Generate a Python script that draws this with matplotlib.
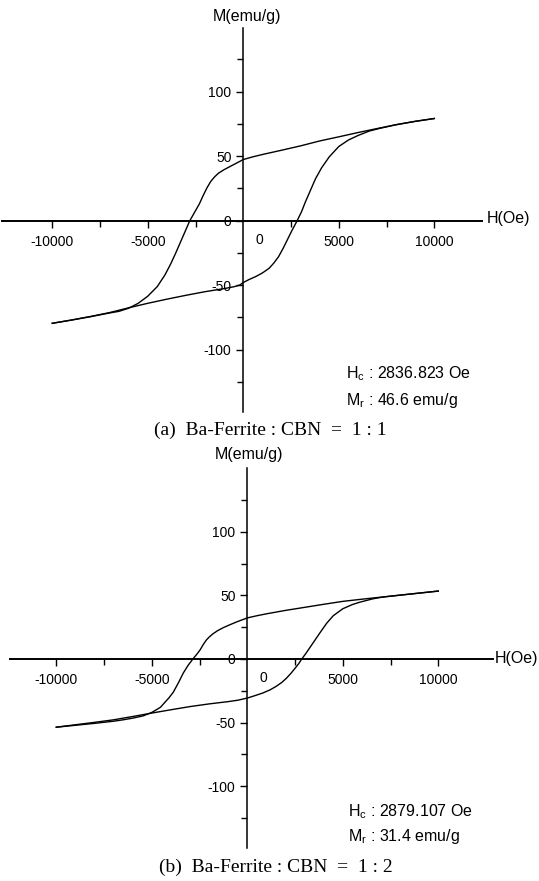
import matplotlib
matplotlib.use("Agg")
import matplotlib.pyplot as plt
from matplotlib.ticker import FixedLocator

plt.rcParams['font.family'] = ['Liberation Sans', 'DejaVu Sans']
plt.rcParams['mathtext.default'] = 'regular'

# ---------------- Data: panel (a) Ba-Ferrite : CBN = 1 : 1 ----------------
a_desc_H = [10000, 9000, 8000, 7000, 6000, 5000, 4000, 3000, 2000, 1000, 500, 0,
            -500, -1000, -1300, -1500, -1700, -1900, -2100, -2300, -2550, -2800,
            -3050, -3300, -3550, -3800, -4100, -4500, -5000, -5500, -6000, -6500,
            -7000, -8000, -9000, -10000]
a_desc_M = [79.2, 77.0, 74.4, 71.4, 68.3, 65.0, 61.8, 58.0, 54.6, 51.3, 49.5, 47.4,
            43.5, 39.6, 36.8, 34.0, 30.5, 25.5, 19.5, 13.0, 6.5, 0.0,
            -8.5, -17.0, -25.5, -33.5, -42.0, -51.0, -58.5, -64.0, -67.8, -70.2,
            -71.5, -74.4, -77.0, -79.5]
a_asc_H = [-10000, -9000, -8000, -7000, -6000, -5000, -4000, -3000, -2000, -1000,
           -500, -200, 0, 300, 650, 1000, 1350, 1600, 1850, 2100, 2300, 2550, 2820,
           3050, 3250, 3500, 3780, 4100, 4500, 5000, 5500, 6000, 6600, 7100, 8000,
           9000, 10000]
a_asc_M = [-79.5, -77.0, -74.2, -71.2, -67.5, -64.0, -60.8, -57.8, -55.0, -52.6,
           -51.2, -50.0, -47.9, -45.6, -43.3, -40.5, -36.9, -32.8, -27.8, -21.0,
           -15.0, -7.5, 0.0, 7.0, 14.5, 23.0, 32.5, 41.0, 49.5, 57.5, 62.5, 66.0,
           69.5, 71.4, 74.4, 77.0, 79.2]

# ---------------- Data: panel (b) Ba-Ferrite : CBN = 1 : 2 ----------------
b_desc_H = [10000, 9000, 8000, 7000, 6000, 5000, 4000, 3000, 2000, 1000, 500, 0,
            -550, -900, -1250, -1550, -1800, -2000, -2150, -2300, -2470, -2650,
            -2850, -3100, -3350, -3600, -3870, -4100, -4550, -5000, -5450, -6000,
            -6500, -7000, -8000, -9000, -10000]
b_desc_M = [53.4, 51.8, 50.2, 48.6, 47.0, 45.3, 43.0, 40.6, 38.2, 35.5, 34.0, 32.3,
            29.2, 27.0, 24.7, 22.3, 19.8, 17.2, 14.8, 11.5, 7.2, 3.6,
            0.0, -5.0, -11.0, -18.5, -26.0, -30.5, -38.0, -42.0, -44.7, -46.5,
            -47.8, -48.9, -50.6, -52.1, -53.6]
b_asc_H = [-10000, -9000, -8000, -7000, -6000, -5000, -4000, -3000, -2000, -1000,
           -500, 0, 400, 800, 1200, 1500, 1800, 2050, 2300, 2500, 2700, 2850, 3050,
           3300, 3550, 3800, 4150, 4500, 5000, 5500, 5900, 6600, 7100, 8000, 9000,
           10000]
b_asc_M = [-53.6, -51.7, -49.8, -47.8, -45.2, -42.5, -39.9, -37.4, -35.3, -33.5,
           -32.4, -30.7, -28.8, -26.8, -24.2, -21.6, -18.5, -15.1, -11.0, -7.3,
           -3.5, 0.0, 4.0, 9.5, 15.0, 20.5, 28.0, 34.0, 39.5, 42.8, 44.7, 47.4,
           48.7, 50.2, 51.8, 53.4]

x_major = [-10000, -5000, 5000, 10000]
x_major_labels = ["-10000", "-5000", "5000", "10000"]
x_minor = [-7500, -2500, 2500, 7500]
y_major = [-100, -50, 0, 50, 100]
y_minor = [-125, -75, -25, 25, 75, 125]

a_text = [r"$H_c$ : 2836.823 Oe", r"$M_r$ : 46.6 emu/g"]
b_text = [r"$H_c$ : 2879.107 Oe", r"$M_r$ : 31.4 emu/g"]
a_caption = "(a)  Ba-Ferrite : CBN  =  1 : 1"
b_caption = "(b)  Ba-Ferrite : CBN  =  1 : 2"

W, H = 539, 881
fig = plt.figure(figsize=(W / 100, H / 100), dpi=100)


def px(x, y):
    return x / W, 1 - y / H


def make_panel(rect, xlim, ylim, desc, asc, texts, caption, ylab_xy, xlab_xy,
               txt_x, txt_y, cap_xy):
    ax = fig.add_axes(rect)
    ax.set_xlim(*xlim)
    ax.set_ylim(*ylim)
    for s in ['top', 'right']:
        ax.spines[s].set_visible(False)
    ax.spines['left'].set_position(('data', 0))
    ax.spines['bottom'].set_position(('data', 0))
    ax.spines['left'].set_linewidth(1.1)
    ax.spines['bottom'].set_linewidth(1.4)
    ax.patch.set_visible(False)

    ax.plot(desc[0], desc[1], color='black', lw=1.0)
    ax.plot(asc[0], asc[1], color='black', lw=1.0)

    ax.xaxis.set_major_locator(FixedLocator(x_major))
    ax.set_xticklabels(x_major_labels)
    ax.xaxis.set_minor_locator(FixedLocator(x_minor))
    ax.yaxis.set_major_locator(FixedLocator(y_major))
    ax.set_yticklabels([str(v) for v in y_major])
    ax.yaxis.set_minor_locator(FixedLocator(y_minor))
    ax.tick_params(axis='both', which='major', direction='out', length=5,
                   width=1.0, labelsize=10, color='black')
    ax.tick_params(axis='both', which='minor', direction='out', length=4,
                   width=1.0)
    ax.tick_params(axis='x', pad=5)
    ax.tick_params(axis='y', pad=3.5)

    # "0" label of the H axis, set to the right of the M axis
    ax.annotate("0", xy=(0, 0), xytext=(16, -19.5), textcoords='offset pixels',
                ha='center', va='center', fontsize=10)

    fig.text(*px(*ylab_xy), "M(emu/g)", ha='center', va='center', fontsize=11.5)
    fig.text(*px(*xlab_xy), "H(Oe)", ha='left', va='center', fontsize=11.5)
    fig.text(*px(txt_x, txt_y[0]), texts[0], ha='left', va='center', fontsize=11.5)
    fig.text(*px(txt_x, txt_y[1]), texts[1], ha='left', va='center', fontsize=11.5)
    fig.text(*px(*cap_xy), caption, ha='center', va='center', fontsize=14,
             family='Liberation Serif')
    return ax


make_panel([2 / W, 1 - 411.7 / H, 479.7 / W, 383.4 / H],
           (-12630, 12480), (-148, 149.1),
           (a_desc_H, a_desc_M), (a_asc_H, a_asc_M), a_text, a_caption,
           (247.5, 16.5), (487, 219), 346.5, (374, 400), (270, 430))

make_panel([10.3 / W, 1 - 848.3 / H, 482.7 / W, 380 / H],
           (-12408, 12864), (-148.8, 149.9),
           (b_desc_H, b_desc_M), (b_asc_H, b_asc_M), b_text, b_caption,
           (249, 455), (495, 658), 348, (812, 837), (276, 867))

fig.savefig("out.png", dpi=100)
